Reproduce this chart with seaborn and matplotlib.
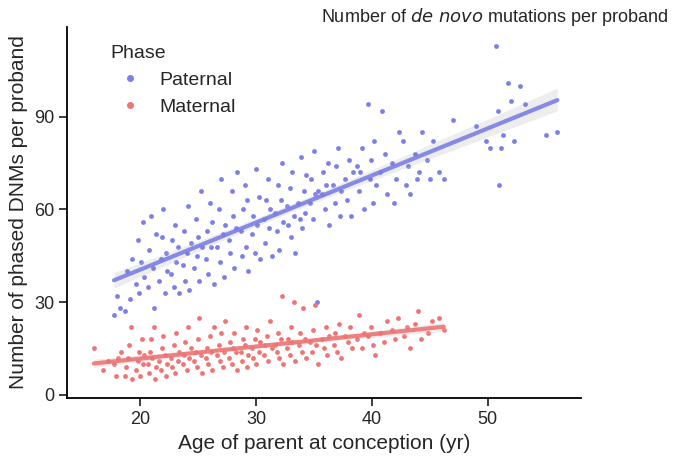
import numpy as np
import pandas as pd
import seaborn as sns
import matplotlib.pyplot as plt

sns.set_theme(style="ticks")
plt.rcParams['font.family'] = ['Liberation Sans', 'DejaVu Sans']

# Paternal points: age -> counts
paternal = {
    18: [26, 32, 28], 19: [27, 40, 31, 44], 20: [36, 50, 33, 43, 56, 38],
    21: [35, 47, 58, 41, 28, 52], 22: [37, 44, 51, 60, 33, 46, 40],
    23: [39, 50, 35, 55, 43, 48, 33], 24: [42, 53, 37, 46, 61, 34, 49],
    25: [41, 57, 45, 51, 37, 66, 48], 26: [44, 53, 39, 62, 48, 56, 36],
    27: [48, 60, 43, 70, 52, 38, 55], 28: [50, 46, 66, 58, 41, 54, 72],
    29: [53, 45, 60, 68, 48, 63, 40], 30: [52, 58, 46, 73, 55, 64, 44],
    31: [57, 49, 63, 70, 54, 60, 45], 32: [59, 53, 68, 47, 63, 75, 56],
    33: [61, 55, 67, 51, 72, 58, 46], 34: [62, 57, 77, 54, 66, 59, 71],
    35: [62, 70, 57, 79, 65, 30, 66], 36: [65, 72, 60, 68, 75, 55],
    37: [68, 62, 74, 80, 58, 66], 38: [70, 63, 76, 58, 72],
    39: [74, 66, 72, 80, 60], 40: [94, 70, 76, 62, 82, 68],
    41: [72, 92, 78, 65], 42: [75, 62, 70, 85], 43: [82, 68, 74, 65],
    44: [78, 70, 72, 85], 45: [76, 70, 82], 46: [72, 70], 47: [89],
    49: [87], 50: [82, 80], 51: [113, 92, 68, 80, 84], 52: [101, 95, 82],
    53: [100, 94], 55: [84], 56: [85],
}
maternal = {
    16: [15], 17: [8, 11], 18: [10, 6, 12, 14], 19: [6, 9, 12, 16, 22, 5],
    20: [8, 11, 14, 6, 18, 10, 13], 21: [10, 7, 14, 18, 12, 22, 5, 9],
    22: [11, 8, 15, 19, 13, 6, 10], 23: [12, 9, 16, 7, 20, 11, 14],
    24: [10, 13, 17, 8, 22, 12, 15], 25: [11, 14, 9, 18, 25, 13, 7],
    26: [12, 15, 10, 19, 14, 8, 22], 27: [13, 16, 11, 20, 9, 14, 24],
    28: [12, 17, 10, 15, 20, 14, 8], 29: [14, 11, 18, 16, 22, 9, 13],
    30: [15, 12, 18, 10, 21, 14, 17], 31: [13, 16, 19, 11, 24, 15],
    32: [16, 14, 20, 12, 18, 32, 10], 33: [15, 18, 13, 22, 17, 30, 11],
    34: [16, 20, 14, 28, 18, 12], 35: [17, 14, 21, 29, 16, 10],
    36: [18, 15, 22, 13, 19], 37: [16, 20, 14, 23, 12], 38: [19, 17, 22, 15],
    39: [18, 26, 15, 20], 40: [19, 22, 16, 13], 41: [20, 17, 24],
    42: [21, 18, 25], 43: [19, 22, 15], 44: [23, 27, 18], 45: [20, 24],
    46: [25, 21],
}

def to_frame(d, phase):
    rows = []
    for age, counts in d.items():
        n = len(counts)
        for i, c in enumerate(counts):
            # spread points a little within the year they were read at
            rows.append((age + (i - (n - 1) / 2) * 0.8 / max(n, 1), c, phase))
    return pd.DataFrame(rows, columns=["age", "count", "phase"])

df_p = to_frame(paternal, "Paternal")
df_m = to_frame(maternal, "Maternal")
colors = {"Paternal": "#7b7fe6", "Maternal": "#f07474"}

fig = plt.figure(figsize=(6.79, 4.76), dpi=100)
ax = fig.add_axes([0.099, 0.164, 0.756, 0.779])
for df, ph in [(df_p, "Paternal"), (df_m, "Maternal")]:
    sns.regplot(data=df, x="age", y="count", ax=ax, color=colors[ph],
                scatter_kws=dict(s=12, alpha=1, linewidths=0),
                line_kws=dict(lw=3, alpha=0.9), label=ph)
    ax.collections[-1].set_facecolor((0.55, 0.55, 0.55, 0.45))

ax.set_xlim(13.7, 58)
ax.set_ylim(-1, 119)
ax.set_xticks([20, 30, 40, 50])
ax.set_yticks([0, 30, 60, 90])
ax.tick_params(labelsize=13)
ax.set_xlabel("Age of parent at conception (yr)", fontsize=15)
ax.set_ylabel("Number of phased DNMs per proband", fontsize=15)
sns.despine(ax=ax)
for s in ["left", "bottom"]:
    ax.spines[s].set_linewidth(1.3)
    ax.spines[s].set_color("black")

handles = [plt.Line2D([], [], ls="", marker="o", ms=4, color=colors[k]) for k in colors]
leg = ax.legend(handles, list(colors), title="Phase", loc="upper left",
                bbox_to_anchor=(0.05, 1.0), frameon=False, fontsize=14,
                title_fontsize=14, handletextpad=0.5)
leg._legend_box.align = "left"

fig.text(0.985, 0.965, "Number of $\\it{de\\ novo}$ mutations per proband",
         ha="right", va="center", fontsize=13)
fig.savefig("out.png", dpi=100)
